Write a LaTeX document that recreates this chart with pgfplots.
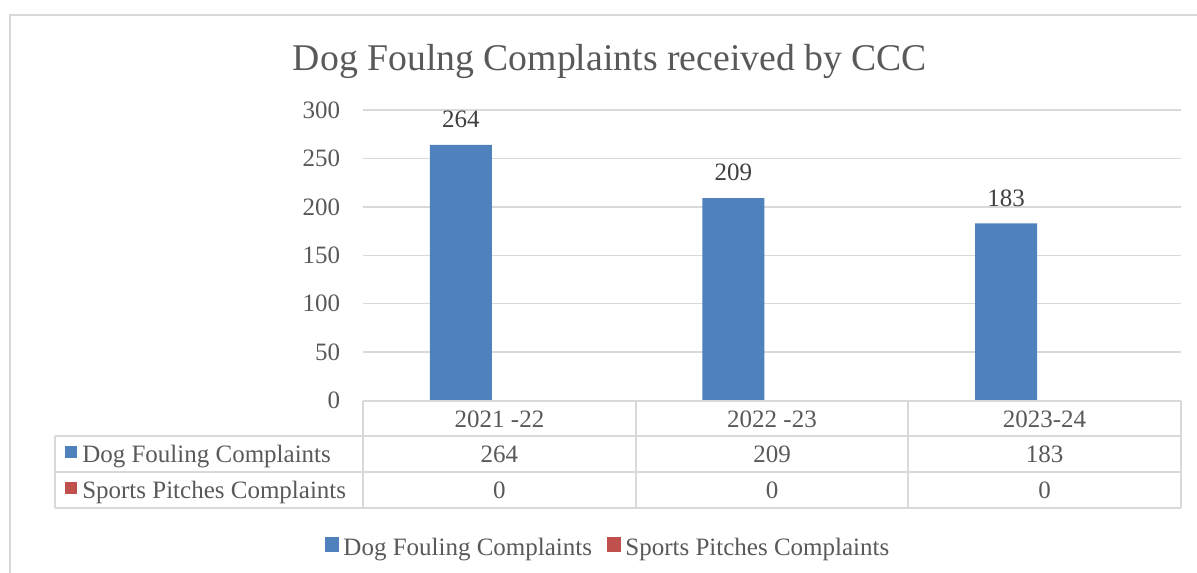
\documentclass[border=0pt]{standalone}
\usepackage{pgfplots}
\pgfplotsset{compat=1.18}
\usepackage{fontspec}
\setmainfont{Liberation Serif}
\definecolor{barblue}{HTML}{4F81BD}
\definecolor{barred}{HTML}{C0504D}
\definecolor{txt}{HTML}{595959}
\definecolor{lbl}{HTML}{404040}
\definecolor{grd}{HTML}{D9D9D9}
\newcommand{\fs}{\fontsize{18.75}{22}\selectfont}
\begin{document}
\begin{tikzpicture}
\begin{axis}[
 at={(0pt,0pt)}, anchor=south west,
 scale only axis, width=613.5pt, height=217.875pt,
 xmin=-0.5, xmax=2.5, ymin=0, ymax=300,
 ytick={0,50,...,300}, xtick=\empty,
 ymajorgrids, grid style={grd, line width=1pt},
 axis line style={draw=none},
 major tick length=0pt,
 /pgf/number format/assume math mode=true,
 tick label style={font=\fs, text=txt},
 yticklabel style={anchor=east, inner sep=0pt, xshift=-17pt},
 ybar, bar width=46.5pt,
 clip=false,
 legend style={at={(rel axis cs:0.3,-0.508)}, anchor=center, draw=none, font=\fs, text=txt, legend columns=2, /tikz/every even column/.append style={column sep=9pt}},
 legend image code/.code={\fill[#1] (0pt,-2.6pt) rectangle (10.6pt,8pt); \path (12pt,0pt);},
]
\addplot[fill=barblue, draw=none, bar shift=-28.9pt, nodes near coords, nodes near coords style={font=\fs, text=lbl, anchor=south, inner sep=0pt, yshift=12.5pt}] coordinates {(0,264) (1,209) (2,183)};
\addplot[fill=barred, draw=none, bar shift=28.9pt] coordinates {(0,0) (1,0) (2,0)};
\legend{Dog Fouling Complaints, Sports Pitches Complaints}
\end{axis}
\begin{scope}[x=0.75pt,y=-0.75pt,shift={(-363,-400.5)}]
\draw[grd, line width=1.2pt] (10,580) -- (10,15) -- (1200,15);
\draw[grd, line width=1.5pt] (363,401) -- (1181,401);
\foreach \yy in {436,472,508} \draw[grd, line width=1.5pt] (55,\yy) -- (1181,\yy);
\draw[grd,line width=1.5pt] (55,436) -- (55,508);
\foreach \xx in {363,636,908,1181} \draw[grd, line width=1.5pt] (\xx,401) -- (\xx,508);
\node[font=\fs, text=txt, anchor=base] at (499.5,427) {2021 -22};
\node[font=\fs, text=txt, anchor=base] at (772,427) {2022 -23};
\node[font=\fs, text=txt, anchor=base] at (1044.5,427) {2023-24};
\node[font=\fs, text=txt, anchor=base] at (499.5,462) {264};
\node[font=\fs, text=txt, anchor=base] at (772,462) {209};
\node[font=\fs, text=txt, anchor=base] at (1044.5,462) {183};
\node[font=\fs, text=txt, anchor=base] at (499.5,498) {0};
\node[font=\fs, text=txt, anchor=base] at (772,498) {0};
\node[font=\fs, text=txt, anchor=base] at (1044.5,498) {0};
\fill[barblue] (65,446) rectangle (77,458);
\fill[barred] (65,482) rectangle (77,494);
\node[font=\fs, text=txt, anchor=base west, inner sep=0pt] at (82,462) {Dog Fouling Complaints};
\node[font=\fs, text=txt, anchor=base west, inner sep=0pt] at (82,498) {Sports Pitches Complaints};
\node[font=\fontsize{28.3}{32}\selectfont, text=txt, anchor=base] at (610,71) {Dog Foulng Complaints received by CCC};
\end{scope}
\pgfresetboundingbox
\path[use as bounding box] (-272.25pt,300.375pt) rectangle (625.5pt,-128.625pt);
\end{tikzpicture}
\end{document}
